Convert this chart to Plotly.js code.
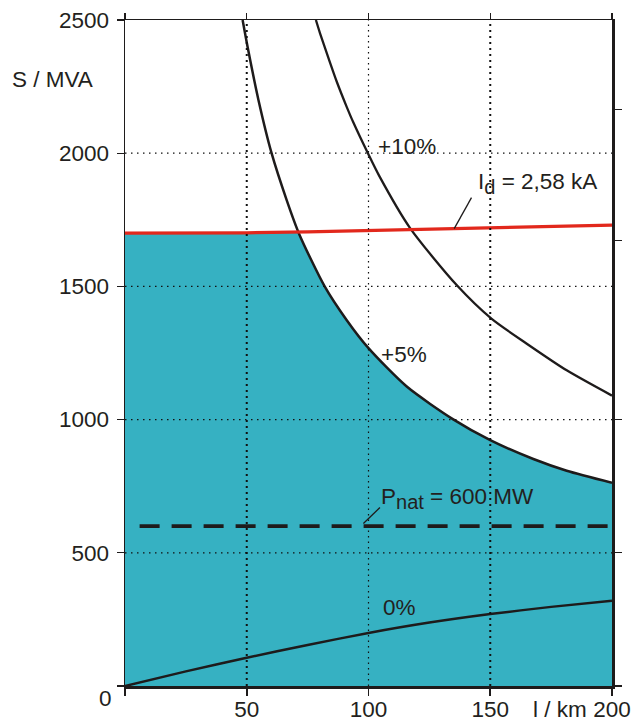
<!DOCTYPE html>
<html>
<head>
<meta charset="utf-8">
<script src="https://cdn.plot.ly/plotly-3.0.1.min.js"></script>
<style>html,body{margin:0;padding:0;background:#fff;}#chart{width:635px;height:722px;}</style>
</head>
<body>
<div id="chart"></div>
<script>
// ---- data ----
const xTickVals = [0, 50, 100, 150, 200];
const xTickText = ['', '50', '100', '150', '200'];
const yTickVals = [0, 500, 1000, 1500, 2000, 2500];
const yTickText = ['', '500', '1000', '1500', '2000', '2500'];
const rightTickVals = [0, 500, 1000, 1672, 2165];
const gridX = [50, 100, 150];
const gridY = [500, 1000, 1500, 2000];

// 0 % voltage-drop curve
const p0X = [0, 25, 50, 75, 100, 125, 150, 175, 200];
const p0Y = [0, 55, 106, 154, 199, 238, 270, 297, 320];
// +5 % curve
const p5X = [48.3, 50.6, 54.8, 60.2, 66.4, 71.6, 82, 91, 100, 115.7, 134.8, 150, 167.7, 181.4, 200];
const p5Y = [2500, 2387, 2200, 2000, 1824, 1695, 1500, 1374, 1268, 1124, 1001, 923, 852, 808, 763];
// +10 % curve
const p10X = [78.4, 80.1, 84.2, 86.9, 91, 93.8, 99.9, 104.4, 117, 136.2, 150.6, 165, 181.4, 200];
const p10Y = [2500, 2450, 2340, 2270, 2175, 2115, 1997, 1915, 1720, 1505, 1378, 1285, 1185, 1090];
// thermal limit Id = 2,58 kA
const redX = [0, 50, 75, 100, 125, 150, 175, 200];
const redY = [1700, 1701, 1705, 1710, 1714, 1719, 1725, 1730];
// natural power
const pNat = 600;

// ---- fill boundary = min(thermal limit, +5 % curve) ----
function interp(xs, ys, x) {
  if (x < xs[0] || x > xs[xs.length - 1]) return Infinity;
  for (let i = 0; i < xs.length - 1; i++) {
    if (x >= xs[i] && x <= xs[i + 1]) {
      const t = (x - xs[i]) / (xs[i + 1] - xs[i]);
      return ys[i] + t * (ys[i + 1] - ys[i]);
    }
  }
  return Infinity;
}
const allX = Array.from(new Set(redX.concat(p5X))).sort((a, b) => a - b);
const fillX = [], fillY = [];
for (let i = 0; i < allX.length; i++) {
  const x = allX[i];
  const r = interp(redX, redY, x), p = interp(p5X, p5Y, x);
  if (i > 0) {
    const xp = allX[i - 1];
    const rp = interp(redX, redY, xp), pp = interp(p5X, p5Y, xp);
    if (isFinite(pp) && isFinite(p)) {
      const g0 = rp - pp, g1 = r - p;
      if (g0 * g1 < 0) {
        const xc = xp + (x - xp) * g0 / (g0 - g1);
        fillX.push(xc); fillY.push(interp(redX, redY, xc));
      }
    }
  }
  fillX.push(x); fillY.push(Math.min(r, p));
}

const ink = '#1e1b1b';
const font = {family: '"Liberation Sans", Arial, Helvetica, sans-serif', size: 22.5, color: '#231f20'};
const SM = 0.7;

const traces = [
  {x: fillX, y: fillY, mode: 'lines', fill: 'tozeroy', fillcolor: '#36B1C2',
   line: {width: 0, color: '#36B1C2', shape: 'spline', smoothing: SM}, hoverinfo: 'skip', showlegend: false},
  {x: p0X, y: p0Y, mode: 'lines', line: {color: ink, width: 2.5, shape: 'spline', smoothing: SM}, showlegend: false},
  {x: p5X, y: p5Y, mode: 'lines', line: {color: ink, width: 2.5, shape: 'spline', smoothing: SM}, showlegend: false},
  {x: p10X, y: p10Y, mode: 'lines', line: {color: ink, width: 2.3, shape: 'spline', smoothing: SM}, showlegend: false},
  {x: redX, y: redY, mode: 'lines', line: {color: '#E2281C', width: 3.3}, showlegend: false},
  {x: [0], y: [0], xaxis: 'x2', yaxis: 'y2', mode: 'markers', marker: {opacity: 0},
   hoverinfo: 'skip', showlegend: false}
];

const shapes = [];
gridX.forEach(v => shapes.push({type: 'line', xref: 'x', yref: 'paper', x0: v, x1: v, y0: 0, y1: 1,
  layer: 'above', line: {color: '#111', width: v === 100 ? 1.2 : 2, dash: v === 100 ? '1.5px,4px' : '2px,4px'}}));
gridY.forEach(v => shapes.push({type: 'line', xref: 'paper', yref: 'y', x0: 0, x1: 1, y0: v, y1: v,
  layer: 'above', line: {color: '#111', width: 1.2, dash: '1.5px,4.5px'}}));
shapes.push({type: 'line', xref: 'paper', yref: 'y', x0: 0.03, x1: 1.013, y0: pNat, y1: pNat,
  layer: 'above', line: {color: ink, width: 3.6, dash: '20px,12px'}});
// leader lines
shapes.push({type: 'line', xref: 'x', yref: 'y', x0: 135.2, y0: 1717, x1: 142.3, y1: 1833,
  layer: 'above', line: {color: ink, width: 1.3}});
shapes.push({type: 'line', xref: 'x', yref: 'y', x0: 97.9, y0: 610, x1: 104.7, y1: 670,
  layer: 'above', line: {color: ink, width: 1.3}});

const subStyle = 'font-size:20px';
const annotations = [
  {text: 'S / MVA', xref: 'paper', yref: 'paper', x: -0.148, y: 0.91, showarrow: false,
   xanchor: 'center', yanchor: 'middle', font: font},
  {text: '0', xref: 'x', yref: 'y', x: 0, y: 0, showarrow: false, xanchor: 'right', yanchor: 'middle',
   xshift: -11, yshift: -12, font: font},
  {text: 'l / km', xref: 'x', yref: 'paper', x: 178.5, y: -0.035, showarrow: false,
   xanchor: 'center', yanchor: 'middle', font: font},
  {text: '+10%', xref: 'x', yref: 'y', x: 115.8, y: 2027, showarrow: false, xanchor: 'center', yanchor: 'middle', font: font},
  {text: 'I<sub><span style="' + subStyle + '">d</span></sub> = 2,58 kA', xref: 'x', yref: 'y', x: 144.1, y: 1888, showarrow: false,
   xanchor: 'left', yanchor: 'middle', font: font},
  {text: '+5%', xref: 'x', yref: 'y', x: 114.6, y: 1246, showarrow: false, xanchor: 'center', yanchor: 'middle', font: font},
  {text: 'P<sub><span style="' + subStyle + '">nat</span></sub> = 600 MW', xref: 'x', yref: 'y', x: 104.3, y: 703, showarrow: false,
   xanchor: 'left', yanchor: 'middle', font: font},
  {text: '0%', xref: 'x', yref: 'y', x: 112.7, y: 296.5, showarrow: false, xanchor: 'center', yanchor: 'middle', font: font}
];

const layout = {
  width: 635, height: 722,
  margin: {l: 125, r: 23, t: 20, b: 36, pad: 0},
  paper_bgcolor: '#fff', plot_bgcolor: '#fff',
  font: font,
  showlegend: false,
  xaxis: {range: [0, 200], tickvals: xTickVals, ticktext: xTickText, ticks: 'outside', ticklen: 7,
    tickwidth: 1.6, tickcolor: ink, showline: true, linewidth: 2.6, linecolor: ink,
    showgrid: false, zeroline: false, tickfont: font, ticklabelstandoff: -6, fixedrange: true},
  yaxis: {range: [0, 2500], tickvals: yTickVals, ticktext: yTickText, ticks: 'outside', ticklen: 7,
    tickwidth: 1.4, tickcolor: ink, showline: true, linewidth: 1.4, linecolor: ink,
    showgrid: false, zeroline: false, tickfont: font, ticklabelstandoff: 3, fixedrange: true},
  xaxis2: {overlaying: 'x', side: 'top', anchor: 'y', range: [0, 200], tickvals: xTickVals,
    showticklabels: false, ticks: 'outside', ticklen: 6, tickwidth: 1.4, tickcolor: ink,
    showline: true, linewidth: 1.4, linecolor: ink, showgrid: false, zeroline: false},
  yaxis2: {overlaying: 'y', side: 'right', anchor: 'x', range: [0, 2500], tickvals: rightTickVals,
    showticklabels: false, ticks: 'outside', ticklen: 7, tickwidth: 1.4, tickcolor: ink,
    showline: true, linewidth: 2.8, linecolor: ink, showgrid: false, zeroline: false},
  shapes: shapes,
  annotations: annotations
};

Plotly.newPlot('chart', traces, layout, {staticPlot: true, displayModeBar: false});
</script>
</body>
</html>
